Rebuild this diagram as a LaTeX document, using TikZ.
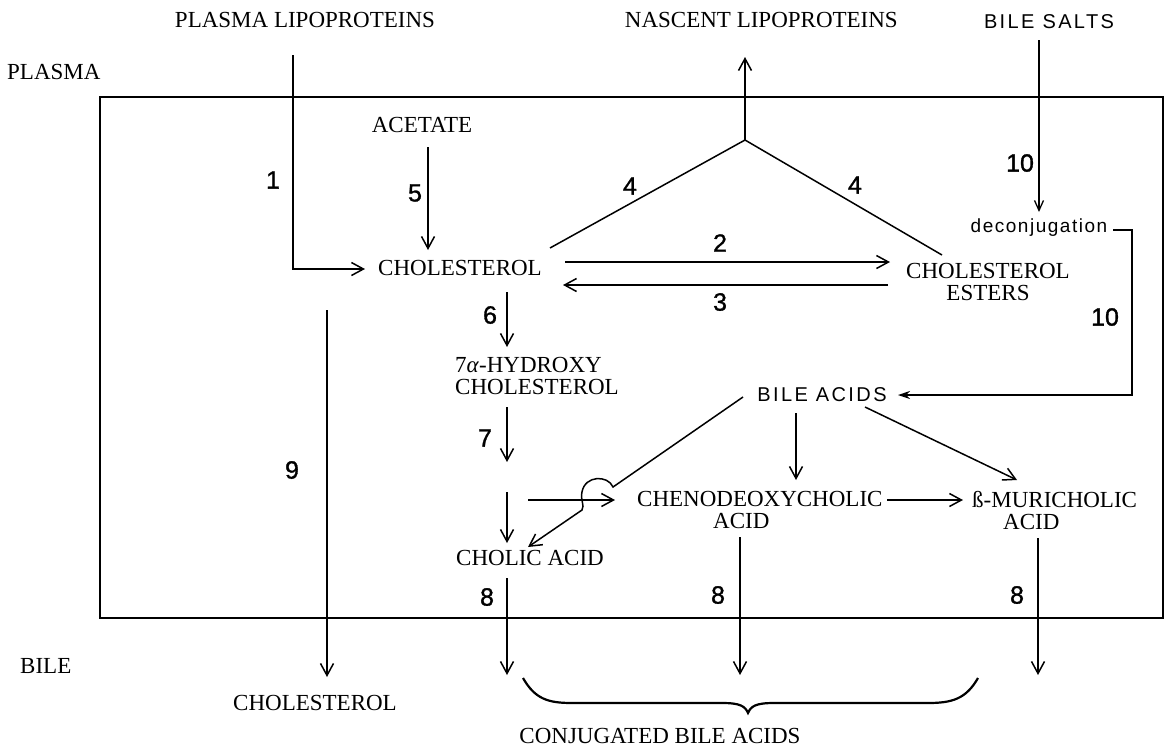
\documentclass[tikz,border=0pt]{standalone}
\usepackage{fontspec}
\setmainfont{Liberation Serif}
\setsansfont{Liberation Sans}
\usetikzlibrary{arrows.meta,calc}
\begin{document}
\begin{tikzpicture}[x=1pt,y=-1pt,
  lbl/.style={font=\fontsize{23}{22}\selectfont, inner sep=0pt},
  sfl/.style={font=\sffamily\fontsize{20}{20}\selectfont\addfontfeature{LetterSpace=12}, inner sep=0pt},
  dec/.style={font=\sffamily\fontsize{19}{19}\selectfont\addfontfeature{LetterSpace=8}, inner sep=0pt},
  num/.style={font=\sffamily\fontsize{25}{25}\selectfont\addfontfeature{FakeBold=1.2}, inner sep=0pt},
  ln/.style={line width=1.5pt},
  arr/.style={ln, -{Straight Barb[length=12pt,width=13pt,line width=1.5pt]}},
  sarr/.style={ln, -{Straight Barb[length=10pt,width=9pt,line width=1.3pt]}},
  darr/.style={ln, -{Stealth[length=12pt,width=8pt]}},
  ]
\useasboundingbox (0,0) rectangle (1165,748);
% compartment box
\draw[line width=1.9pt] (100,97) rectangle (1163,618);

% serif labels
\node[lbl, anchor=west] (plasma) at (7,72) {PLASMA};
\node[lbl, anchor=west] (bile) at (20,666) {BILE};
\node[lbl] (plp) at (305,20) {PLASMA LIPOPROTEINS};
\node[lbl, anchor=east] (nlp) at (898,20) {NASCENT LIPOPROTEINS};
\node[lbl] (acet) at (422,125) {ACETATE};
\node[lbl] (chol) at (460,268) {CHOLESTEROL};
\node[lbl, align=center] (este) at (988,282) {CHOLESTEROL\\ESTERS};
\node[lbl, align=left, anchor=west] (hyd) at (455,376) {7\textit{α}-HYDROXY\\CHOLESTEROL};
\node[lbl] (cholic) at (530,558) {CHOLIC ACID};
\node[lbl, align=left, anchor=west] (cheno) at (637,510) {CHENODEOXYCHOLIC\\\hspace*{76pt}ACID};
\node[lbl, align=left, anchor=west] (muri) at (972,511) {ß-MURICHOLIC\\\hspace*{31pt}ACID};
\node[lbl] (cholb) at (315,703) {CHOLESTEROL};
\node[lbl] (conj) at (660,736) {CONJUGATED BILE ACIDS};

% sans labels
\node[sfl] (bsalt) at (1049,22) {BILE SALTS};
\node[dec] (decon) at (1039,228) {deconjugation};
\node[sfl] (bacid) at (822,395) {BILE ACIDS};

% connector end points
\coordinate (p1a) at (293,55);   \coordinate (p1b) at (365,269);
\coordinate (p5a) at (428,147);  \coordinate (p5b) at (428,250);
\coordinate (p4l) at (550,248);  \coordinate (apex) at (745,140);
\coordinate (p4r) at (942,255);  \coordinate (p4u) at (745,57);
\coordinate (p2a) at (565,262);  \coordinate (p2b) at (890,262);
\coordinate (p3a) at (888,285);  \coordinate (p3b) at (563,285);
\coordinate (p6a) at (507,292);  \coordinate (p6b) at (507,347);
\coordinate (p7a) at (507,407);  \coordinate (p7b) at (507,462);
\coordinate (pca) at (507,492);  \coordinate (pcb) at (507,543);
\coordinate (pha) at (528,500);  \coordinate (phb) at (615,500);
\coordinate (pba) at (796,413);  \coordinate (pbb) at (796,480);
\coordinate (pma) at (865,407);  \coordinate (pmb) at (1017,480);
\coordinate (pla) at (743,397);  \coordinate (plb) at (613,487);
\coordinate (plc) at (582,510);  \coordinate (pld) at (528,547);
\coordinate (pcm) at (887,500);  \coordinate (pcn) at (963,500);
\coordinate (p8a) at (507,578);  \coordinate (p8b) at (507,675);
\coordinate (p8c) at (740,537);  \coordinate (p8d) at (740,675);
\coordinate (p8e) at (1038,538); \coordinate (p8f) at (1038,675);
\coordinate (p9a) at (327,310);  \coordinate (p9b) at (327,677);
\coordinate (pta) at (1039,40);  \coordinate (ptb) at (1039,212);
\coordinate (pda) at (1113,230); \coordinate (pdb) at (1132,230);
\coordinate (pdc) at (1132,395); \coordinate (pdd) at (898,395);

% connectors
\draw[arr] (p1a) |- (p1b);
\draw[arr] (p5a) -- (p5b);
\draw[ln] (p4l) -- (apex) -- (p4r);
\draw[arr] (apex) -- (p4u);
\draw[arr] (p2a) -- (p2b);
\draw[arr] (p3a) -- (p3b);
\draw[arr] (p6a) -- (p6b);
\draw[arr] (p7a) -- (p7b);
\draw[arr] (pca) -- (pcb);
\draw[arr] (pha) -- (phb);
\draw[arr] (pba) -- (pbb);
\draw[arr] (pma) -- (pmb);
\draw[arr] (pla) -- (plb) .. controls (608,475) and (585,475) .. (582,492)
  .. controls (580,500) and (585,505) .. (plc) -- (pld);
\draw[arr] (pcm) -- (pcn);
\draw[arr] (p8a) -- (p8b);
\draw[arr] (p8c) -- (p8d);
\draw[arr] (p8e) -- (p8f);
\draw[arr] (p9a) -- (p9b);
\draw[sarr] (pta) -- (ptb);
\draw[darr] (pda) -- (pdb) -- (pdc) -- (pdd);

% brace
\draw[line width=2.2pt] (523,678) .. controls (535,699) and (548,703) .. (572,703)
  -- (722,703) .. controls (740,703) and (745,706) .. (748,713)
  .. controls (751,706) and (756,703) .. (774,703)
  -- (928,703) .. controls (952,703) and (966,699) .. (978,678);

% numbers
\node[num] (n1) at (273,180) {1};
\node[num] (n5) at (415,193) {5};
\node[num] (n4a) at (630,186) {4};
\node[num] (n4b) at (855,185) {4};
\node[num] (n2) at (720,243) {2};
\node[num] (n3) at (720,302) {3};
\node[num] (n6) at (490,315) {6};
\node[num] (n7) at (485,438) {7};
\node[num] (n9) at (292,470) {9};
\node[num] (n10a) at (1020,163) {10};
\node[num] (n10b) at (1105,317) {10};
\node[num] (n8a) at (487,597) {8};
\node[num] (n8b) at (718,595) {8};
\node[num] (n8c) at (1017,595) {8};
\end{tikzpicture}
\end{document}
